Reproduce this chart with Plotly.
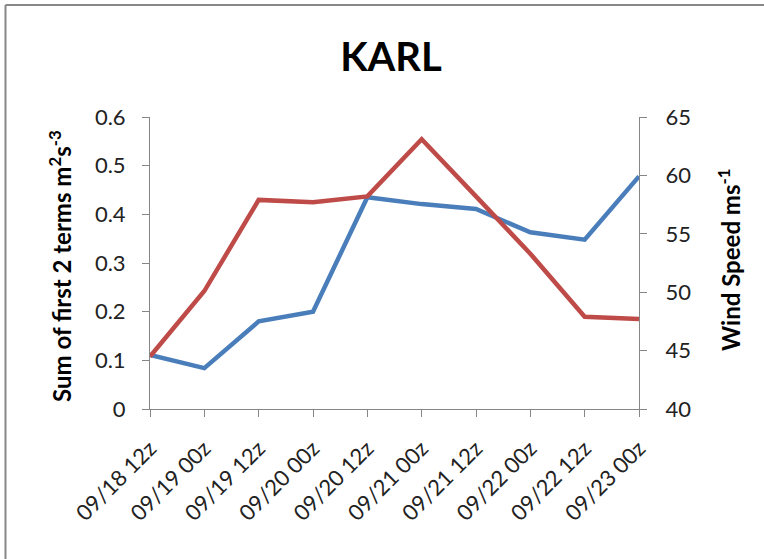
import plotly.graph_objects as go

# Forecast times along the track of Karl
times = ["09/18 12z", "09/19 00z", "09/19 12z", "09/20 00z", "09/20 12z",
         "09/21 00z", "09/21 12z", "09/22 00z", "09/22 12z", "09/23 00z"]

# Sum of the first two budget terms (m^2 s^-3), left axis
sum_terms = [0.111, 0.084, 0.180, 0.200, 0.435, 0.421, 0.411, 0.363, 0.348, 0.478]

# Maximum wind speed (m/s), right axis
wind_speed = [44.5, 50.1, 57.9, 57.7, 58.2, 63.1, 58.2, 53.3, 47.9, 47.7]

FONT = "Lato"
AXIS_GREY = "#868686"
W, H = 764, 559
ML, MR, MT, MB = 150, 125, 117, 150
PW, PH = W - ML - MR, H - MT - MB


def px_to_paper_x(px):
    return (px - ML) / PW


def px_to_paper_y(py):
    return (H - MB - py) / PH


fig = go.Figure()
fig.add_trace(go.Scatter(x=times, y=sum_terms, mode="lines",
                         line=dict(color="#4a7ebb", width=4.5),
                         name="Sum of first 2 terms", yaxis="y"))
fig.add_trace(go.Scatter(x=times, y=wind_speed, mode="lines",
                         line=dict(color="#be4b48", width=4.5),
                         name="Wind Speed", yaxis="y2"))

axis_common = dict(showline=True, linecolor=AXIS_GREY, linewidth=1,
                   ticks="outside", tickcolor=AXIS_GREY, ticklen=7,
                   showgrid=False, zeroline=False,
                   tickfont=dict(family=FONT, size=22, color="#222"))

fig.update_layout(
    width=W, height=H,
    margin=dict(l=ML, r=MR, t=MT, b=MB),
    paper_bgcolor="white", plot_bgcolor="white",
    showlegend=False,
    title=dict(text="<b>KARL</b>", x=391 / W, xanchor="center",
               y=1 - 57 / H, yanchor="middle", xref="container",
               font=dict(family=FONT, size=40, color="black")),
    xaxis=dict(type="category", range=[0, 9], tickangle=-45,
               ticklabelstandoff=10, **axis_common),
    yaxis=dict(range=[0, 0.6], dtick=0.1, tickformat="~g",
               ticklabelstandoff=12, **axis_common),
    yaxis2=dict(range=[40, 65], dtick=5, overlaying="y", side="right",
                ticklabelstandoff=14, **axis_common),
)

# Axis titles
fig.add_annotation(text="<b>Sum of first 2 terms m<sup>2</sup>s<sup>-3</sup></b>",
                   xref="paper", yref="paper", x=px_to_paper_x(60),
                   y=px_to_paper_y(266), textangle=-90, showarrow=False,
                   xanchor="center", yanchor="middle",
                   font=dict(family=FONT, size=24, color="black"))
fig.add_annotation(text="<b>Wind Speed ms<sup>-1</sup></b>",
                   xref="paper", yref="paper", x=px_to_paper_x(729),
                   y=px_to_paper_y(260), textangle=-90, showarrow=False,
                   xanchor="center", yanchor="middle",
                   font=dict(family=FONT, size=24, color="black"))

# Chart-area frame (top and left edges)
fig.add_shape(type="line", xref="paper", yref="paper",
              x0=px_to_paper_x(5.5), x1=px_to_paper_x(W + 2),
              y0=px_to_paper_y(5), y1=px_to_paper_y(5),
              line=dict(color="#888888", width=2))
fig.add_shape(type="line", xref="paper", yref="paper",
              x0=px_to_paper_x(5.5), x1=px_to_paper_x(5.5),
              y0=px_to_paper_y(5), y1=px_to_paper_y(H + 2),
              line=dict(color="#888888", width=2))

fig.write_html("out.html")
